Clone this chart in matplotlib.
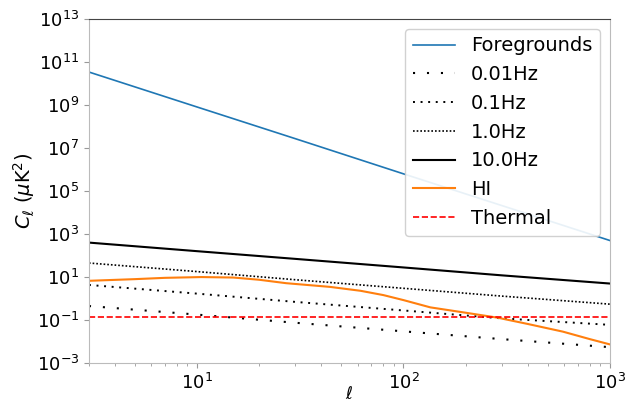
import matplotlib.pyplot as plt
import numpy as np

# multipoles and spectra (muK^2)
ell = [3, 10, 30, 100, 300, 1000]
foregrounds = [3.4e10, 8.1e8, 2.7e7, 6.3e5, 2.1e4, 5.0e2]
noise_10hz = [4.0e2, 1.6e2, 7.0e1, 2.8e1, 1.2e1, 5.0e0]
noise_1hz = [4.5e1, 1.8e1, 7.5e0, 3.0e0, 1.3e0, 5.5e-1]
noise_01hz = [4.3e0, 1.7e0, 7.0e-1, 2.8e-1, 1.2e-1, 6.0e-2]
noise_001hz = [4.5e-1, 1.8e-1, 7.5e-2, 3.0e-2, 1.3e-2, 5.5e-3]

ell_hi = [3, 5, 7, 10.5, 15, 20, 27, 44, 62, 80, 100, 135, 200, 285, 400, 592, 800, 1000]
hi = [6.7, 8.0, 9.2, 10.0, 9.5, 7.5, 5.2, 3.5, 2.3, 1.45, 0.85, 0.39, 0.22, 0.13,
      0.066, 0.029, 0.013, 0.0074]

thermal = 0.14

plt.rcParams["font.size"] = 14
fig, ax = plt.subplots(figsize=(6.4, 4.03), dpi=100)
fig.subplots_adjust(left=0.139, right=0.953, top=0.953, bottom=0.099)

ax.loglog(ell, foregrounds, color="#1f77b4", lw=1.2, label="Foregrounds")
ax.loglog(ell, noise_001hz, color="k", lw=1.5, linestyle=(0, (1, 5.7)), label="0.01Hz")
ax.loglog(ell, noise_01hz, color="k", lw=1.4, linestyle=(0, (1, 2.9)), label="0.1Hz")
ax.loglog(ell, noise_1hz, color="k", lw=1.2, linestyle=(0, (1, 1.2)), label="1.0Hz")
ax.loglog(ell, noise_10hz, color="k", lw=1.5, label="10.0Hz")
ax.loglog(ell_hi, hi, color="#ff7f0e", lw=1.5, label="HI")
ax.axhline(thermal, color="red", lw=1.2, linestyle="--", label="Thermal")

ax.set_xlim(3, 1000)
ax.set_ylim(1e-3, 1e13)
ax.set_yticks([10.0**k for k in range(-3, 14, 2)])
ax.yaxis.set_minor_locator(plt.NullLocator())
ax.set_xlabel(r"$\ell$", fontsize=12)
ax.xaxis.set_label_coords(0.5, -0.064)
ax.set_ylabel(r"$C_\ell$ ($\mu$K$^2$)", labelpad=0)

for side in ["left", "bottom", "right"]:
    ax.spines[side].set_color("#bbbbbb")
ax.spines["top"].set_color("#444444")
ax.tick_params(which="both", color="#999999", labelsize=13)

ax.legend(loc="upper right", fontsize=14, handlelength=2.2, framealpha=0.9)

fig.savefig("out.png", dpi=100)
